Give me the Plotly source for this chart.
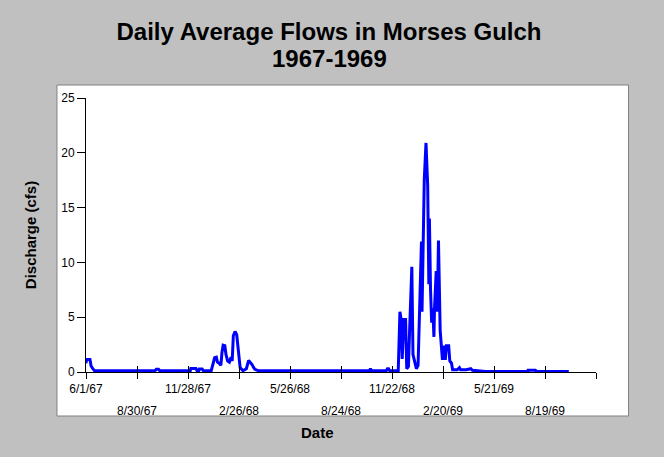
import pandas as pd
import plotly.graph_objects as go

# Day offsets from 1967-06-01 and daily average discharge (cfs)
start_date = "1967-06-01"
day_offset = [0, 1, 7, 9, 12, 15,
              122, 124, 128, 130,
              184, 185, 194, 196, 199, 200, 205, 207,
              221, 224, 227, 230, 232, 235, 238, 240, 242, 245, 247, 250, 253, 256, 258,
              260, 263, 266, 269, 272, 277, 283, 287, 290, 293, 296, 298, 304,
              500, 502, 504, 530, 532, 534, 536,
              551, 554, 556, 558, 561, 564, 566, 569, 571, 575, 577, 580, 583, 586, 589,
              592, 593, 595, 597, 600, 603, 605, 606, 608, 610, 612, 614, 615, 618, 620,
              622, 625, 627, 629, 631, 634, 636, 640, 642, 645, 647, 655, 659, 661, 671,
              679, 682, 696, 705, 779, 780, 793, 795, 852]
discharge = [0.8, 1.15, 1.15, 0.55, 0.3, 0.12,
             0.12, 0.25, 0.25, 0.12,
             0.12, 0.32, 0.32, 0.12, 0.12, 0.28, 0.28, 0.12,
             0.12, 0.6, 1.3, 1.35, 0.9, 0.8, 0.6, 1.8, 2.45, 2.4, 1.6, 1.0, 0.9, 1.35, 1.0,
             3.3, 3.7, 3.4, 1.6, 0.4, 0.12, 0.3, 1.05, 0.9, 0.68, 0.4, 0.25, 0.12,
             0.12, 0.3, 0.12, 0.12, 0.3, 0.3, 0.12,
             0.12, 5.5, 4.8, 1.2, 4.8, 4.8, 0.3, 0.5, 3.7, 9.6, 1.6, 0.9, 0.3, 0.6, 6.2,
             11.9, 5.5, 11.8, 17.6, 20.9, 17.0, 8.0, 14.0, 7.5, 4.5, 5.8, 3.2, 5.8, 9.2, 5.5,
             12.0, 3.8, 2.2, 1.1, 2.4, 1.1, 2.4, 2.4, 1.0, 0.8, 0.2, 0.2, 0.4, 0.2, 0.2,
             0.3, 0.15, 0.1, 0.05, 0.05, 0.15, 0.15, 0.05, 0.05]

tick_dates = ["1967-06-01", "1967-08-30", "1967-11-28", "1968-02-26", "1968-05-26",
              "1968-08-24", "1968-11-22", "1969-02-20", "1969-05-21", "1969-08-19",
              "1969-11-17"]
row1_labels = ["6/1/67", "", "11/28/67", "", "5/26/68", "", "11/22/68", "", "5/21/69", "", ""]
row2_labels = ["", "8/30/67", "", "2/26/68", "", "8/24/68", "", "2/20/69", "", "8/19/69", ""]
y_ticks = [0, 5, 10, 15, 20, 25]
x_range = ["1967-06-01", "1969-11-17"]
y_range = [0, 25]

dates = pd.Timestamp(start_date) + pd.to_timedelta(day_offset, unit="D")

FONT = "Liberation Sans, Arial, sans-serif"

fig = go.Figure()
fig.add_trace(go.Scatter(x=dates, y=discharge, mode="lines",
                         line=dict(color="#0000FF", width=3), showlegend=False))
fig.add_trace(go.Scatter(x=[], y=[], xaxis="x2", showlegend=False, hoverinfo="skip"))

fig.update_layout(
    width=664, height=457,
    margin=dict(l=86, r=68, t=98, b=85),
    paper_bgcolor="#C0C0C0",
    plot_bgcolor="white",
    font=dict(family=FONT, color="black", size=12),
    title=dict(text="<b>Daily Average Flows in Morses Gulch</b>",
               font=dict(family=FONT, size=24, color="black"),
               x=0.4955, xref="container", xanchor="center",
               y=1 - 32 / 457, yref="container", yanchor="middle"),
    xaxis=dict(type="date", range=x_range, tickvals=tick_dates, ticktext=row1_labels,
               ticks="outside", ticklen=6, tickcolor="black", tickwidth=1,
               showline=True, linecolor="black", linewidth=1,
               showgrid=False, zeroline=False,
               tickfont=dict(family=FONT, size=12, color="black")),
    xaxis2=dict(type="date", range=x_range, tickvals=tick_dates, ticktext=row2_labels,
                overlaying="x", anchor="y", side="bottom",
                ticks="inside", ticklen=6, tickcolor="black", tickwidth=1,
                showline=False, showgrid=False, zeroline=False,
                ticklabelstandoff=30,
                tickfont=dict(family=FONT, size=12, color="black")),
    yaxis=dict(range=y_range, tickvals=y_ticks, ticks="outside", ticklen=8,
               tickcolor="black", showline=True, linecolor="black", linewidth=1,
               showgrid=False, zeroline=False,
               tickfont=dict(family=FONT, size=12, color="black"),
               title=dict(text="<b>Discharge (cfs)</b>", standoff=20,
                          font=dict(family=FONT, size=15, color="black"))),
    shapes=[dict(type="rect", xref="paper", yref="paper",
                 x0=-0.0569, x1=1.0638, y0=-0.1606, y1=1.0474,
                 fillcolor="white", line=dict(color="#808080", width=1), layer="below")],
    annotations=[
        dict(text="<b>1967-1969</b>", xref="paper", yref="paper",
             x=(329 - 86) / 510, y=(372 - 59) / 274, xanchor="center", yanchor="middle",
             showarrow=False, font=dict(family=FONT, size=24, color="black")),
        dict(text="<b>Date</b>", xref="paper", yref="paper",
             x=0.4534, y=-0.219, xanchor="center", yanchor="middle",
             showarrow=False, font=dict(family=FONT, size=15, color="black")),
    ],
)

fig.write_html("out.html", config={"displayModeBar": False},
               post_script="document.body.style.margin='0';document.body.style.padding='0';")
